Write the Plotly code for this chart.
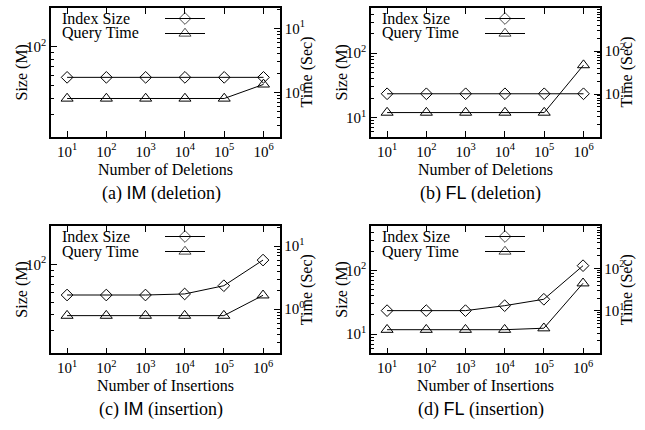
import math
import plotly.graph_objects as go

W, H = 645, 430

# ---- data -------------------------------------------------------------
ops = [1e1, 1e2, 1e3, 1e4, 1e5, 1e6]
op_labels = ["10<sup>1</sup>", "10<sup>2</sup>", "10<sup>3</sup>",
             "10<sup>4</sup>", "10<sup>5</sup>", "10<sup>6</sup>"]

series_names = ["Index Size", "Query Time"]

# IM dataset, deletions
im_del_size = [58.0, 58.0, 58.0, 58.0, 58.0, 58.0]      # M
im_del_time = [0.80, 0.80, 0.80, 0.80, 0.80, 1.33]      # sec
# FL dataset, deletions
fl_del_size = [23.4, 23.4, 23.4, 23.4, 23.4, 23.4]
fl_del_time = [3.7, 3.7, 3.7, 3.7, 3.7, 47.0]
# IM dataset, insertions
im_ins_size = [57.4, 57.4, 57.4, 58.5, 67.9, 108.0]
im_ins_time = [0.79, 0.79, 0.79, 0.79, 0.79, 1.66]
# FL dataset, insertions
fl_ins_size = [23.4, 23.4, 23.4, 28.0, 35.3, 119.0]
fl_ins_time = [3.6, 3.6, 3.6, 3.6, 3.9, 44.7]

# ---- styling ------------------------------------------------------------
SERIF = "Liberation Serif"
SANS = "Liberation Sans"
BLACK = "black"


def decade_minors(lo, hi):
    """Minor tick values 2..9 x 10^k strictly inside (lo, hi)."""
    vals = []
    k = -3
    while 10 ** k <= hi:
        for m in range(2, 10):
            v = m * 10 ** k
            if lo < v < hi:
                vals.append(v)
        k += 1
    return vals


def sup_label(v):
    return "10<sup>%d</sup>" % round(math.log10(v))


# panel geometry in pixels (plot-area box)
boxes = [
    (51, 280, 8, 137),
    (371, 600, 8, 137),
    (51, 279.5, 226, 353.3),
    (371, 599.5, 226, 353.3),
]

im_left = dict(rng=(20, 200), major=[100])
im_right = dict(rng=(10 ** -0.7, 10 ** 1.32), major=[1, 10])
fl_left = dict(rng=(5, 500), major=[10, 100])
fl_right = dict(rng=(1, 1000), major=[10, 100])

panels = [
    dict(size=im_del_size, time=im_del_time, left=im_left, right=im_right,
         xtitle="Number of Deletions", tag="(a)", name="IM", kind="deletion"),
    dict(size=fl_del_size, time=fl_del_time, left=fl_left, right=fl_right,
         xtitle="Number of Deletions", tag="(b)", name="FL", kind="deletion"),
    dict(size=im_ins_size, time=im_ins_time, left=im_left, right=im_right,
         xtitle="Number of Insertions", tag="(c)", name="IM", kind="insertion"),
    dict(size=fl_ins_size, time=fl_ins_time, left=fl_left, right=fl_right,
         xtitle="Number of Insertions", tag="(d)", name="FL", kind="insertion"),
]

markers = [dict(symbol="diamond-open", size=9),
           dict(symbol="triangle-up-open", size=10.5)]

fig = go.Figure()
layout = {}
annotations = []


def px(x):
    return x / W


def py(y):
    return 1 - y / H


for i, (p, (x0, x1, y0, y1)) in enumerate(zip(panels, boxes)):
    k = i + 1
    xd = [px(x0), px(x1)]
    yd = [py(y1), py(y0)]
    axis_common = dict(showline=True, linecolor=BLACK, linewidth=1.5,
                       showgrid=False, zeroline=False, ticks="inside",
                       tickcolor=BLACK, tickwidth=1, ticklen=6,
                       tickfont=dict(family=SERIF, size=15, color=BLACK))

    layout[f"xaxis{k}"] = dict(
        axis_common, type="log", domain=xd, anchor=f"y{k}",
        range=[0.59, 6.42], tickmode="array", tickvals=ops,
        ticktext=op_labels, mirror="ticks")

    lo, hi = p["left"]["rng"]
    layout[f"yaxis{k}"] = dict(
        axis_common, type="log", domain=yd, anchor=f"x{k}", side="left",
        range=[math.log10(lo), math.log10(hi)], tickmode="array",
        tickvals=p["left"]["major"],
        ticktext=[sup_label(v) for v in p["left"]["major"]],
        minor=dict(tickmode="array", tickvals=decade_minors(lo, hi),
                   ticks="inside", ticklen=3, tickcolor=BLACK, tickwidth=1))

    lo, hi = p["right"]["rng"]
    layout[f"yaxis{k + 4}"] = dict(
        axis_common, type="log", anchor=f"x{k}", overlaying=f"y{k}",
        side="right", range=[math.log10(lo), math.log10(hi)],
        tickmode="array", tickvals=p["right"]["major"],
        ticktext=[sup_label(v) for v in p["right"]["major"]],
        minor=dict(tickmode="array", tickvals=decade_minors(lo, hi),
                   ticks="inside", ticklen=3, tickcolor=BLACK, tickwidth=1))

    # pixel-unit overlay used for the key box inside each panel
    layout[f"xaxis{k + 4}"] = dict(visible=False, overlaying=f"x{k}",
                                   anchor=f"y{k + 8}", range=[0, x1 - x0],
                                   fixedrange=True)
    layout[f"yaxis{k + 8}"] = dict(visible=False, overlaying=f"y{k}",
                                   anchor=f"x{k + 4}", range=[y1 - y0, 0],
                                   fixedrange=True)

    # data series
    for s, (vals, yref) in enumerate([(p["size"], f"y{k}"),
                                      (p["time"], f"y{k + 4}")]):
        fig.add_trace(go.Scatter(
            x=ops, y=vals, xaxis=f"x{k}", yaxis=yref,
            mode="lines+markers", showlegend=False, cliponaxis=False,
            line=dict(color=BLACK, width=1),
            marker=dict(symbol=markers[s]["symbol"], size=markers[s]["size"],
                        color=BLACK, line=dict(color=BLACK, width=1))))

    # key: label on the left, sample on the right
    for s, row in enumerate([10.5, 25.5]):
        fig.add_trace(go.Scatter(
            x=[114, 134, 154], y=[row] * 3, xaxis=f"x{k + 4}",
            yaxis=f"y{k + 8}", mode="lines+markers", showlegend=False,
            hoverinfo="skip", line=dict(color=BLACK, width=1),
            marker=dict(symbol=markers[s]["symbol"],
                        size=[0, markers[s]["size"], 0],
                        color=BLACK, line=dict(color=BLACK, width=1))))
        annotations.append(dict(
            text=series_names[s], x=px(x0 + 9), y=py(y0 + row),
            xref="paper", yref="paper", xanchor="left", yanchor="middle",
            showarrow=False, font=dict(family=SERIF, size=16, color=BLACK)))

    mid_y = (y0 + y1) / 2
    annotations.append(dict(
        text="Size (M)", x=px(x0 - 29), y=py(mid_y), xref="paper",
        yref="paper", textangle=-90, showarrow=False,
        xanchor="center", yanchor="middle",
        font=dict(family=SERIF, size=16, color=BLACK)))
    annotations.append(dict(
        text="Time (Sec)", x=px(x1 + 27), y=py(mid_y), xref="paper",
        yref="paper", textangle=-90, showarrow=False,
        xanchor="center", yanchor="middle",
        font=dict(family=SERIF, size=16, color=BLACK)))
    annotations.append(dict(
        text=p["xtitle"], x=px((x0 + x1) / 2), y=py(y1 + 32), xref="paper",
        yref="paper", showarrow=False, xanchor="center", yanchor="middle",
        font=dict(family=SERIF, size=16, color=BLACK)))
    caption = (f"{p['tag']} <span style='font-family:{SANS}'>{p['name']}</span>"
               f" ({p['kind']})")
    annotations.append(dict(
        text=caption, x=px((x0 + x1) / 2 - 4.5), y=py(y1 + 56), xref="paper",
        yref="paper", showarrow=False, xanchor="center", yanchor="middle",
        font=dict(family=SERIF, size=18, color=BLACK)))

fig.update_layout(
    width=W, height=H, margin=dict(l=0, r=0, t=0, b=0, pad=0),
    paper_bgcolor="white", plot_bgcolor="white",
    showlegend=False, annotations=annotations,
    font=dict(family=SERIF, color=BLACK),
    **layout)

fig.write_html("out.html")
